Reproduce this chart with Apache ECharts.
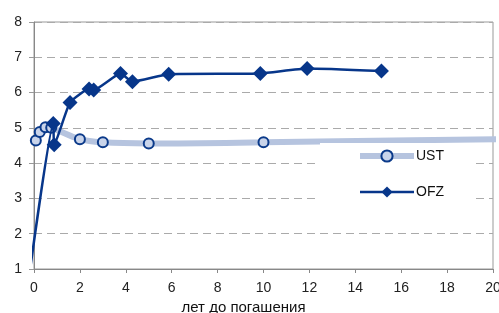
<!DOCTYPE html>
<html>
<head>
<meta charset="utf-8">
<script src="https://cdn.jsdelivr.net/npm/echarts@6/dist/echarts.min.js"></script>
<style>
  html, body { margin: 0; padding: 0; background: #fff; }
  #chart { width: 499px; height: 313px; }
</style>
</head>
<body>
<div id="chart"></div>
<script>
  // years to maturity / yield, %
  const ustYears = [0.08, 0.25, 0.5, 0.75, 2, 3, 5, 10, 30]
  const ustYield = [4.64, 4.88, 5.02, 5.0, 4.68, 4.59, 4.56, 4.59, 4.77]
  const ofzYears = [-0.22, 0.84, 0.88, 1.57, 2.4, 2.6, 3.77, 4.29, 5.87, 9.86, 11.9, 15.14]
  const ofzYield = [0.75, 5.12, 4.52, 5.72, 6.1, 6.07, 6.54, 6.31, 6.52, 6.54, 6.68, 6.61]
  const xName = 'лет до погашения'

  const chartinstance = echarts.init(document.getElementById('chart'))

  const ustData = ustYears.map((x, i) => [x, ustYield[i]])
  const ofzData = ofzYears.map((x, i) => {
    const item = { value: [x, ofzYield[i]] }
    if (x < 0) item.symbol = 'none'
    return item
  })

  const font = 'Liberation Sans, Arial, sans-serif'

  const option = {
    animation: false,
    grid: {
      show: true,
      left: 34,
      right: 6,
      top: 22,
      bottom: 44,
      outerBoundsMode: 'none',
      containLabel: false,
      borderColor: '#999',
      borderWidth: 1
    },
    legend: {
      orient: 'vertical',
      left: 320,
      top: 143,
      padding: [6, 32, 14, 37],
      backgroundColor: '#fff',
      itemWidth: 54,
      itemHeight: 14,
      itemGap: 22,
      textStyle: { fontFamily: font, fontSize: 14, color: '#111', padding: [0, 0, 0, -3] },
      data: [
        { name: 'UST', lineStyle: { width: 6, color: '#b6c4df' } },
        { name: 'OFZ', lineStyle: { width: 2.5, color: '#07368a' } }
      ]
    },
    xAxis: {
      type: 'value',
      min: 0,
      max: 20,
      interval: 2,
      name: xName,
      nameLocation: 'middle',
      nameGap: 30,
      nameTextStyle: { fontFamily: font, fontSize: 15, color: '#111', padding: [0, 40, 0, 0] },
      axisLine: { show: true, lineStyle: { color: '#888' } },
      axisTick: { show: true, length: 4, lineStyle: { color: '#888' } },
      axisLabel: { fontFamily: font, fontSize: 14, color: '#222', margin: 12 },
      splitLine: { show: false }
    },
    yAxis: {
      type: 'value',
      min: 1,
      max: 8,
      interval: 1,
      axisLine: { show: true, lineStyle: { color: '#888' } },
      axisTick: { show: true, length: 5, lineStyle: { color: '#999' } },
      axisLabel: { fontFamily: font, fontSize: 14, color: '#222', margin: 12 },
      splitLine: { show: true, lineStyle: { color: '#aaa', type: [8, 5] } }
    },
    series: [
      {
        name: 'UST',
        type: 'line',
        data: ustData,
        smooth: 0.4,
        symbol: 'circle',
        symbolSize: 10,
        z: 2,
        lineStyle: { color: '#b6c4df', width: 6 },
        itemStyle: { color: '#c9d4ea', borderColor: '#0b3a8a', borderWidth: 2 }
      },
      {
        name: 'OFZ',
        type: 'line',
        data: ofzData,
        smooth: 0.15,
        clip: false,
        symbol: 'diamond',
        symbolSize: 15,
        z: 3,
        lineStyle: { color: '#07368a', width: 2.5 },
        itemStyle: { color: '#07368a' }
      }
    ]
  }
  option && chartinstance.setOption(option)
  window.addEventListener('resize', () => {
    chartinstance.resize()
  })
</script>
</body>
</html>
